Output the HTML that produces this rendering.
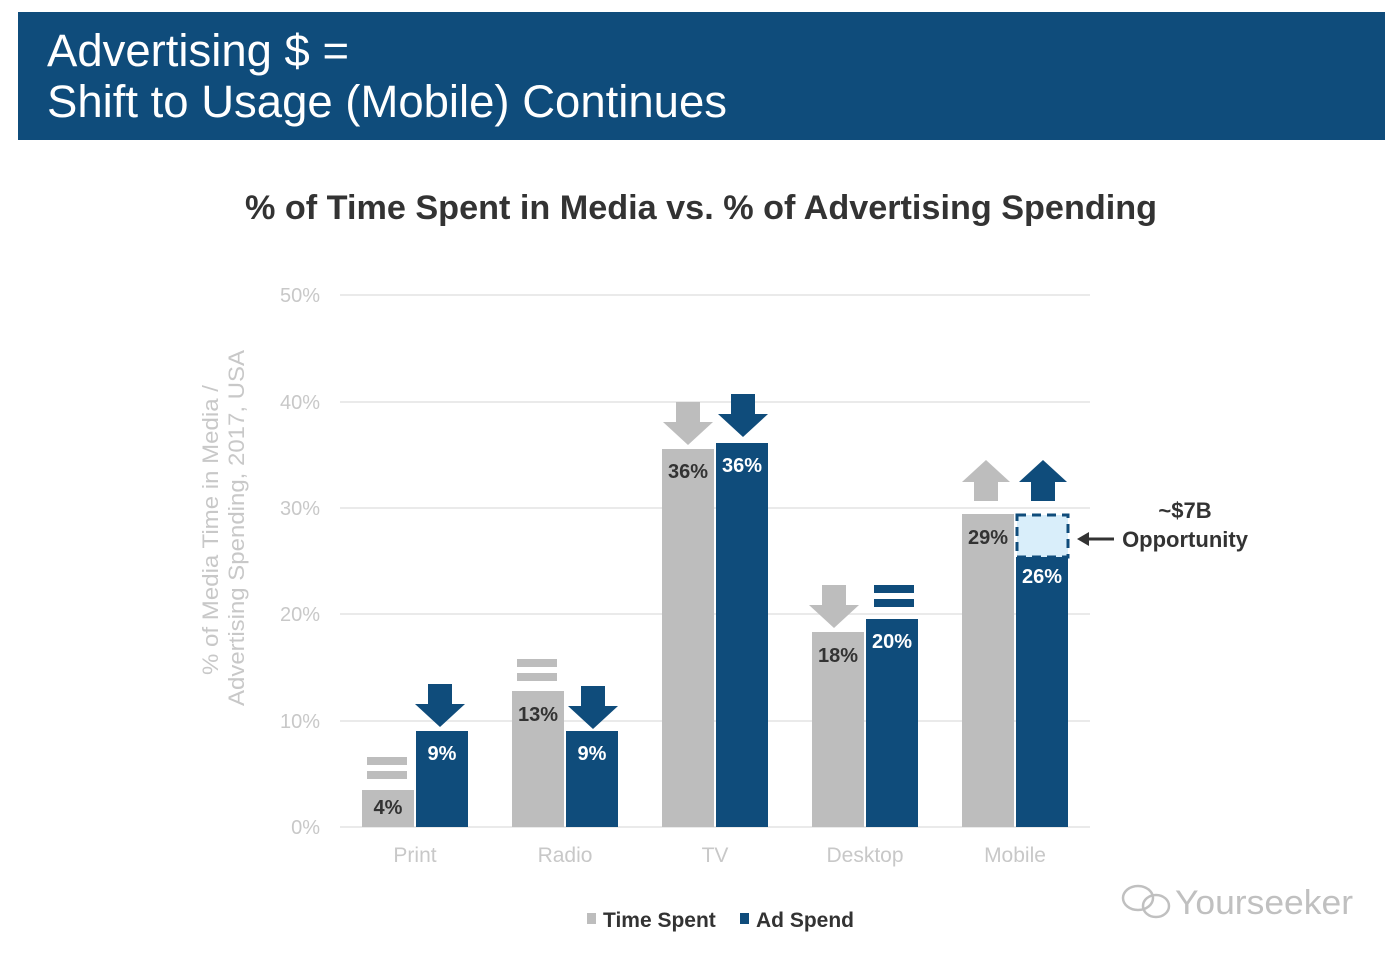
<!DOCTYPE html>
<html><head><meta charset="utf-8"><style>
body{margin:0;background:#fff;}
svg{display:block;font-family:"Liberation Sans",Arial,sans-serif;}
</style></head><body>
<svg width="1399" height="960" viewBox="0 0 1399 960">
<rect x="18" y="12" width="1367" height="128" fill="#0f4c7b"/>
<text x="47" y="66" fill="#fff" font-size="45" textLength="302" lengthAdjust="spacingAndGlyphs">Advertising $ =</text>
<text x="47" y="117" fill="#fff" font-size="45" textLength="680" lengthAdjust="spacingAndGlyphs">Shift to Usage (Mobile) Continues</text>
<text x="245" y="219" fill="#333" font-size="34" font-weight="bold" textLength="912" lengthAdjust="spacingAndGlyphs">% of Time Spent in Media vs. % of Advertising Spending</text>
<g stroke="#e3e3e3" stroke-width="1.5">
<line x1="340" y1="295" x2="1090" y2="295"/><line x1="340" y1="402" x2="1090" y2="402"/>
<line x1="340" y1="508" x2="1090" y2="508"/><line x1="340" y1="614" x2="1090" y2="614"/>
<line x1="340" y1="721" x2="1090" y2="721"/><line x1="340" y1="827" x2="1090" y2="827"/>
</g>
<g fill="#c8c8c8" font-size="20" text-anchor="end">
<text x="320" y="302">50%</text><text x="320" y="409">40%</text><text x="320" y="515">30%</text>
<text x="320" y="621">20%</text><text x="320" y="728">10%</text><text x="320" y="834">0%</text>
</g>
<g fill="#c8c8c8" font-size="22" transform="translate(226,528) rotate(-90)">
<text x="-147" y="-8" textLength="290" lengthAdjust="spacingAndGlyphs">% of Media Time in Media /</text>
<text x="-178" y="18" textLength="356" lengthAdjust="spacingAndGlyphs">Advertising Spending, 2017, USA</text>
</g>
<g fill="#bdbdbd">
<rect x="362" y="790" width="52" height="37"/><rect x="512" y="691" width="52" height="136"/>
<rect x="662" y="449" width="52" height="378"/><rect x="812" y="632" width="52" height="195"/>
<rect x="962" y="514" width="52" height="313"/>
</g>
<g fill="#0f4c7b">
<rect x="416" y="731" width="52" height="96"/><rect x="566" y="731" width="52" height="96"/>
<rect x="716" y="443" width="52" height="384"/><rect x="866" y="619" width="52" height="208"/>
<rect x="1016" y="557" width="52" height="270"/>
</g>
<rect x="1017" y="515" width="51" height="42" fill="#d9eefa" stroke="#0f4c7b" stroke-width="3" stroke-dasharray="9,6"/>
<g fill="#0f4c7b">
<rect x="428" y="684" width="24" height="22"/><polygon points="415,704 465,704 440,727"/>
<rect x="581" y="686" width="24" height="22"/><polygon points="568,706 618,706 593,729"/>
<rect x="731" y="394" width="24" height="22"/><polygon points="718,414 768,414 743,437"/>
<polygon points="1043,460 1019,482 1067,482"/><rect x="1031" y="480" width="24" height="21"/>
<rect x="874" y="585" width="40" height="8"/><rect x="874" y="599" width="40" height="8"/>
</g>
<g fill="#bdbdbd">
<rect x="676" y="402" width="24" height="22"/><polygon points="663,422 713,422 688,445"/>
<rect x="822" y="585" width="24" height="22"/><polygon points="809,605 859,605 834,628"/>
<polygon points="986,460 962,482 1010,482"/><rect x="974" y="480" width="24" height="21"/>
<rect x="367" y="757" width="40" height="8"/><rect x="367" y="771" width="40" height="8"/>
<rect x="517" y="659" width="40" height="8"/><rect x="517" y="673" width="40" height="8"/>
</g>
<g font-size="20" font-weight="bold" text-anchor="middle">
<g fill="#333">
<text x="388" y="814">4%</text><text x="538" y="721">13%</text><text x="688" y="478">36%</text>
<text x="838" y="662">18%</text><text x="988" y="544">29%</text>
</g>
<g fill="#fff">
<text x="442" y="760">9%</text><text x="592" y="760">9%</text><text x="742" y="472">36%</text>
<text x="892" y="648">20%</text><text x="1042" y="583">26%</text>
</g>
</g>
<g fill="#333" font-weight="bold" font-size="22">
<text x="1185" y="518" text-anchor="middle">~$7B</text>
<text x="1185" y="547" text-anchor="middle">Opportunity</text>
</g>
<line x1="1085" y1="539" x2="1114" y2="539" stroke="#333" stroke-width="3"/>
<polygon points="1077,539 1089,532 1089,546" fill="#333"/>
<g fill="#c8c8c8" font-size="21" text-anchor="middle">
<text x="415" y="862">Print</text><text x="565" y="862">Radio</text><text x="715" y="862">TV</text>
<text x="865" y="862">Desktop</text><text x="1015" y="862">Mobile</text>
</g>
<rect x="587" y="913" width="9" height="11" fill="#bdbdbd"/>
<text x="603" y="927" fill="#333" font-size="21" font-weight="bold">Time Spent</text>
<rect x="740" y="913" width="9" height="11" fill="#0f4c7b"/>
<text x="756" y="927" fill="#333" font-size="21" font-weight="bold">Ad Spend</text>
<text x="1175" y="914" fill="#c0c0c0" font-size="34" textLength="178" lengthAdjust="spacingAndGlyphs">Yourseeker</text>
<g fill="none" stroke="#c0c0c0" stroke-width="2.5"><ellipse cx="1138" cy="898" rx="15" ry="12"/><ellipse cx="1156" cy="906" rx="13" ry="11"/></g>
</svg>
</body></html>
